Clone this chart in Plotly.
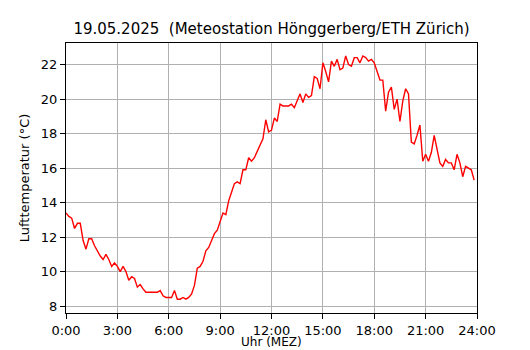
import plotly.graph_objects as go

# Temperature (°C), 10-minute values, one row per hour (0:00 .. 23:50)
temp_rows = [
    [13.4, 13.2, 13.1, 12.5, 12.8, 12.8],   # 0h
    [11.8, 11.3, 11.9, 11.9, 11.5, 11.2],   # 1h
    [10.9, 10.7, 11.0, 10.7, 10.3, 10.5],   # 2h
    [10.3, 10.0, 10.3, 10.0, 9.5, 9.7],     # 3h
    [9.6, 9.1, 9.25, 9.0, 8.8, 8.8],        # 4h
    [8.8, 8.8, 8.8, 8.9, 8.6, 8.5],         # 5h
    [8.5, 8.5, 8.9, 8.4, 8.4, 8.5],         # 6h
    [8.4, 8.5, 8.7, 9.2, 10.2, 10.3],       # 7h
    [10.6, 11.2, 11.4, 11.8, 12.2, 12.4],   # 8h
    [12.9, 13.4, 13.3, 14.1, 14.6, 15.1],   # 9h
    [15.2, 15.1, 15.9, 15.9, 16.6, 16.4],   # 10h
    [16.6, 17.0, 17.3, 17.7, 18.8, 18.1],   # 11h
    [18.2, 18.9, 18.7, 19.7, 19.6, 19.6],   # 12h
    [19.6, 19.7, 19.5, 19.9, 20.3, 19.8],   # 13h
    [20.3, 20.1, 20.2, 21.3, 21.2, 20.6],   # 14h
    [22.1, 21.6, 21.0, 22.2, 21.9, 22.3],   # 15h
    [21.7, 21.8, 22.5, 22.0, 21.9, 22.4],   # 16h
    [22.4, 22.1, 22.5, 22.4, 22.2, 22.3],   # 17h
    [22.1, 21.6, 21.1, 21.1, 19.3, 20.4],   # 18h
    [20.7, 19.4, 20.0, 18.7, 19.9, 20.6],   # 19h
    [20.3, 17.5, 17.4, 17.9, 18.5, 16.4],   # 20h
    [16.8, 16.4, 16.9, 17.9, 17.0, 16.3],   # 21h
    [16.1, 16.5, 16.3, 16.3, 15.9, 16.8],   # 22h
    [16.3, 15.5, 16.1, 16.0, 15.9, 15.3],   # 23h
]
temps = [v for row in temp_rows for v in row]
hours = [i / 6 for i in range(len(temps))]

x_tickvals = [0, 3, 6, 9, 12, 15, 18, 21, 24]
x_ticktext = ["0:00", "3:00", "6:00", "9:00", "12:00", "15:00", "18:00", "21:00", "24:00"]
y_tickvals = [8, 10, 12, 14, 16, 18, 20, 22]

title_text = "19.05.2025  (Meteostation Hönggerberg/ETH Zürich)"
x_title = "Uhr (MEZ)"
y_title = "Lufttemperatur (°C)"

fig = go.Figure()
fig.add_trace(go.Scatter(x=hours, y=temps, mode="lines",
                         line=dict(color="#ff0000", width=1.4),
                         hoverinfo="skip", showlegend=False))

# the page body has an 8px default margin, so the figure is 8px smaller
W, H = 522, 342
T, B = 35, 37
plot_h = H - T - B
font = "DejaVu Sans"
fig.update_layout(
    width=W, height=H,
    margin=dict(l=58, r=53, t=T, b=B, autoexpand=False),
    paper_bgcolor="white", plot_bgcolor="white",
    font=dict(family=font, size=13, color="black"),
    title=dict(text=title_text, x=263.5 / W, xanchor="center",
               y=1 - 21 / H, yanchor="middle", yref="container",
               automargin=False,
               font=dict(family=font, size=15, color="black")),
)
fig.add_annotation(text=x_title, xref="paper", yref="paper",
                   x=0.5, y=-(333.5 - (H - B)) / plot_h,
                   xanchor="center", yanchor="middle", showarrow=False,
                   font=dict(family=font, size=12, color="black"))
fig.update_xaxes(range=[0, 24], tickvals=x_tickvals, ticktext=x_ticktext,
                 automargin=False,
                 showgrid=True, gridcolor="#b0b0b0", gridwidth=1,
                 showline=True, linecolor="black", linewidth=1, mirror=True,
                 ticks="outside", ticklen=5, tickcolor="black",
                 zeroline=False)
fig.update_yaxes(range=[7.6, 23.25], tickvals=y_tickvals,
                 automargin=False,
                 showgrid=True, gridcolor="#b0b0b0", gridwidth=1,
                 showline=True, linecolor="black", linewidth=1, mirror=True,
                 ticks="outside", ticklen=5, tickcolor="black",
                 zeroline=False,
                 title=dict(text=y_title, standoff=8, font=dict(size=13)))

fig.write_html("out.html")
